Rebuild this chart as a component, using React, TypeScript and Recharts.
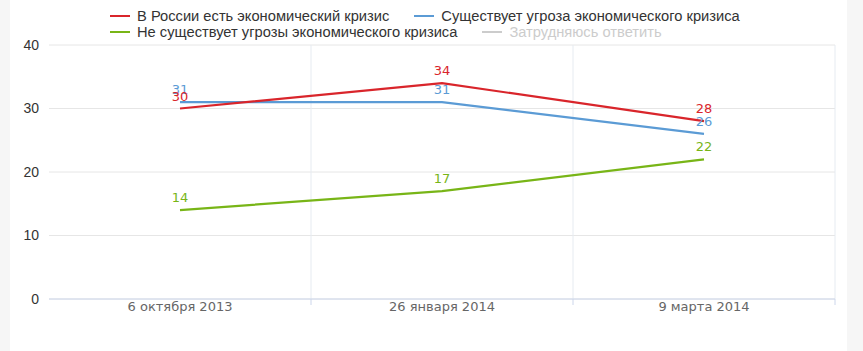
import { LineChart, Line, XAxis, YAxis, CartesianGrid, LabelList } from 'recharts'

// survey dates
const categories = ['6 октября 2013', '26 января 2014', '9 марта 2014']

// answers, %
const crisisNow = [30, 34, 28]
const crisisThreat = [31, 31, 26]
const noThreat = [14, 17, 22]

const yTicks = [0, 10, 20, 30, 40]

const legendItems = [
	{ name: 'В России есть экономический кризис', color: '#d9252b', muted: false },
	{ name: 'Существует угроза экономического кризиса', color: '#5b9bd5', muted: false },
	{ name: 'Не существует угрозы экономического кризиса', color: '#78b517', muted: false },
	{ name: 'Затрудняюсь ответить', color: '#cccccc', muted: true },
]

const data = categories.map((date, i) => ({
	date,
	crisisNow: crisisNow[i],
	crisisThreat: crisisThreat[i],
	noThreat: noThreat[i],
}))

const W = 837
const H = 351
const margin = { top: 45, right: 12, left: 9, bottom: 22 }
const Y_AXIS_W = 30
const X_AXIS_H = 30
const axisY = H - margin.bottom - X_AXIS_H
const plotW = W - margin.left - Y_AXIS_W - margin.right
const half = plotW / categories.length / 2

const XTick = (props: any) => {
	const { x, payload } = props
	return (
		<g>
			<line x1={x + half} x2={x + half} y1={axisY} y2={axisY + 6} stroke='#ccd6eb' />
			<text
				x={x}
				y={axisY + 7}
				textAnchor='middle'
				dominantBaseline='central'
				fill='#666'
				fontSize={13}
				fontFamily='DejaVu Sans'
			>
				{payload.value}
			</text>
		</g>
	)
}

const labelStyle = { fontSize: 13, fontFamily: 'DejaVu Sans' }

export default function App() {
	return (
		<div style={{ width: 863, height: 351, background: '#f6f6f6', position: 'relative' }}>
			<style>{'body{margin:0}'}</style>
			<div style={{ position: 'absolute', left: 10, top: 0, width: W, height: H, background: '#fff' }}>
				<div
					style={{
						position: 'absolute',
						left: 100,
						top: 8,
						width: 660,
						display: 'flex',
						flexWrap: 'wrap',
						columnGap: 25,
						fontFamily: 'Liberation Sans',
						fontSize: 14.7,
						lineHeight: '16px',
						zIndex: 1,
					}}
				>
					{legendItems.map((item) => (
						<div key={item.name} style={{ display: 'flex', alignItems: 'center', color: item.muted ? '#cccccc' : '#333' }}>
							<span style={{ display: 'inline-block', width: 20, height: 2, background: item.color, marginRight: 7 }} />
							{item.name}
						</div>
					))}
				</div>
				<LineChart width={W} height={H} data={data} margin={margin}>
					<CartesianGrid vertical={false} stroke='#e6e6e6' />
					<CartesianGrid
						horizontal={false}
						stroke='#e6ebf1'
						verticalCoordinatesGenerator={({ offset }: any) =>
							[1, 2, 3].map((i) => offset.left + (offset.width * i) / categories.length)
						}
					/>
					<XAxis
						dataKey='date'
						height={X_AXIS_H}
						axisLine={{ stroke: '#ccd6eb' }}
						tickLine={false}
						interval={0}
						padding={{ left: half, right: half }}
						tick={<XTick />}
					/>
					<YAxis
						domain={[0, 40]}
						ticks={yTicks}
						width={Y_AXIS_W}
						axisLine={false}
						tickLine={false}
						tickSize={0}
						tickMargin={10}
						tick={{ fill: '#333', fontSize: 14, fontFamily: 'Liberation Sans' }}
					/>
					<Line type='linear' dataKey='noThreat' stroke='#78b517' strokeWidth={2.2} dot={false} isAnimationActive={false}>
						<LabelList dataKey='noThreat' position='top' offset={8} fill='#78b517' style={labelStyle} />
					</Line>
					<Line type='linear' dataKey='crisisThreat' stroke='#5b9bd5' strokeWidth={2.2} dot={false} isAnimationActive={false}>
						<LabelList dataKey='crisisThreat' position='top' offset={8} fill='#5b9bd5' style={labelStyle} />
					</Line>
					<Line type='linear' dataKey='crisisNow' stroke='#d9252b' strokeWidth={2.2} dot={false} isAnimationActive={false}>
						<LabelList dataKey='crisisNow' position='top' offset={8} fill='#d9252b' style={labelStyle} />
					</Line>
				</LineChart>
			</div>
		</div>
	)
}
